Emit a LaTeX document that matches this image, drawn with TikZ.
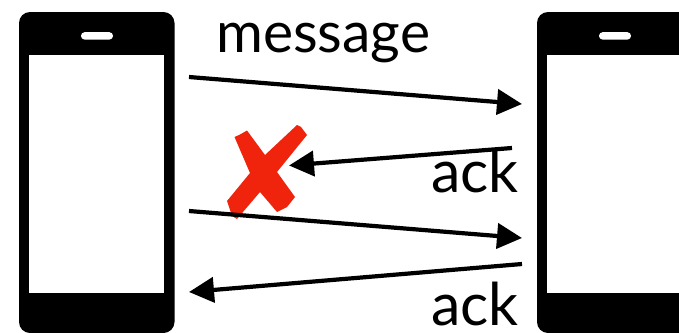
\documentclass[tikz,border=0pt]{standalone}
\usepackage{fontspec}
\setmainfont{Lato}
\usetikzlibrary{arrows.meta}
\tikzset{
  x=1pt,y=-1pt,
  phonebody/.style={fill=black,draw=none,rounded corners=11pt},
  screen/.style={fill=white,draw=none,inner sep=0pt,minimum width=135pt,minimum height=238pt},
  speaker/.style={fill=white,draw=none,rounded corners=3.6pt},
  msg/.style={line width=4.2pt,-{Triangle[length=25pt,width=25pt]}},
  lbl/.style={inner sep=0pt,text=black,anchor=base west},
  lblmsg/.style={lbl,font=\fontsize{57}{57}\selectfont},
  lblack/.style={lbl,font=\fontsize{59}{59}\selectfont},
}
\definecolor{crossred}{RGB}{240,36,12}
\begin{document}
\begin{tikzpicture}
\useasboundingbox (0,0) rectangle (679,332);
\clip (0,0) rectangle (679,332);
\fill[white] (0,0) rectangle (679,332);
% phones
\fill[phonebody] (19,12) rectangle (174.5,333);
\node[screen] (screenL) at (96.5,174) {};
\fill[speaker] (81,32.2) rectangle (113,39.6);
\fill[phonebody] (537,12) rectangle (692,333);
\node[screen] (screenR) at (614.5,174) {};
\fill[speaker] (599,32.2) rectangle (631,39.6);
% red cross
\fill[crossred,line join=round]
  (234.5,137) -- (240,134.5) -- (247,130.5) -- (265,155) -- (297,125) -- (301,127) -- (307,135)
  -- (277,172) -- (295,197) -- (287,207) -- (277,212) -- (260,192) -- (237,219) -- (232,216) -- (227,201)
  -- (250,173) -- cycle;
% arrows
\coordinate (a1s) at (189,77);  \coordinate (a1e) at (522,104);
\coordinate (a2s) at (512,148); \coordinate (a2e) at (289,165.5);
\coordinate (a3s) at (189,211); \coordinate (a3e) at (522,238);
\coordinate (a4s) at (522,264); \coordinate (a4e) at (189,292);
\draw[msg] (a1s) -- (a1e);
\draw[msg] (a2s) -- (a2e);
\draw[msg] (a3s) -- (a3e);
\draw[msg] (a4s) -- (a4e);
% labels
\node[lblmsg] (message) at (216,52) {message};
\node[lblack] (ack1) at (431,192) {ack};
\node[lblack] (ack2) at (431,325) {ack};
\end{tikzpicture}
\end{document}
